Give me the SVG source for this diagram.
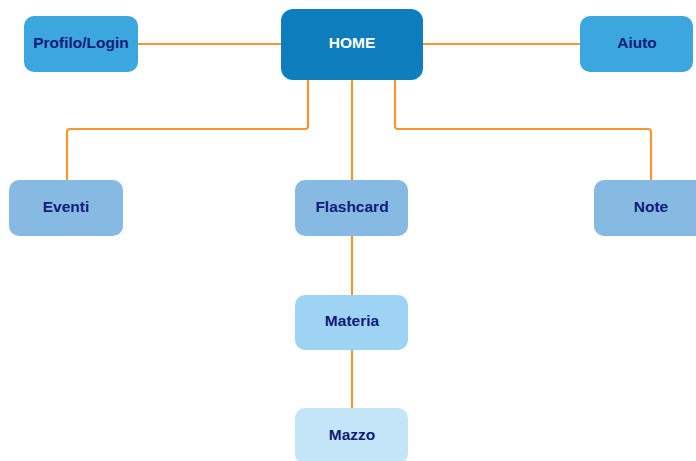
<svg xmlns="http://www.w3.org/2000/svg" width="696" height="461" viewBox="0 0 696 461">
<style>
.n rect{stroke:none}
.t{font-family:"Liberation Sans",Arial,sans-serif;font-weight:bold;font-size:15.5px;fill:#101c78;text-anchor:middle;dominant-baseline:central}
.c{fill:none;stroke:#f5962f;stroke-width:2.2;stroke-linejoin:round}
</style>
<rect width="696" height="461" fill="#fff"/>
<g id="connectors">
<path class="c" d="M138 44H281"/>
<path class="c" d="M423 44H580"/>
<path class="c" d="M308 80V126Q308 129 305 129H70Q67 129 67 132V180"/>
<path class="c" d="M352 80V180"/>
<path class="c" d="M395 80V126Q395 129 398 129H648Q651 129 651 132V180"/>
<path class="c" d="M352 236V295"/>
<path class="c" d="M352 350V408"/>
</g>
<g id="home" class="n"><rect x="281" y="9" width="142" height="71" rx="12" fill="#0e7dbd"/><text class="t" x="352" y="42" style="fill:#fff">HOME</text></g>
<g id="profilo" class="n"><rect x="24" y="16" width="114" height="56" rx="10" fill="#3ca6de"/><text class="t" x="81" y="42">Profilo/Login</text></g>
<g id="aiuto" class="n"><rect x="580" y="16" width="113" height="56" rx="10" fill="#3ca6de"/><text class="t" x="637" y="42">Aiuto</text></g>
<g id="eventi" class="n"><rect x="9" y="180" width="114" height="56" rx="10" fill="#86bae3"/><text class="t" x="66" y="206">Eventi</text></g>
<g id="flashcard" class="n"><rect x="295" y="180" width="113" height="56" rx="10" fill="#86bae3"/><text class="t" x="352" y="206">Flashcard</text></g>
<g id="note" class="n"><rect x="594" y="180" width="114" height="56" rx="10" fill="#86bae3"/><text class="t" x="651" y="206">Note</text></g>
<g id="materia" class="n"><rect x="295" y="295" width="113" height="55" rx="10" fill="#9ed3f3"/><text class="t" x="352" y="320">Materia</text></g>
<g id="mazzo" class="n"><rect x="295" y="408" width="113" height="56" rx="10" fill="#c4e5f7"/><text class="t" x="352" y="434">Mazzo</text></g>
</svg>
